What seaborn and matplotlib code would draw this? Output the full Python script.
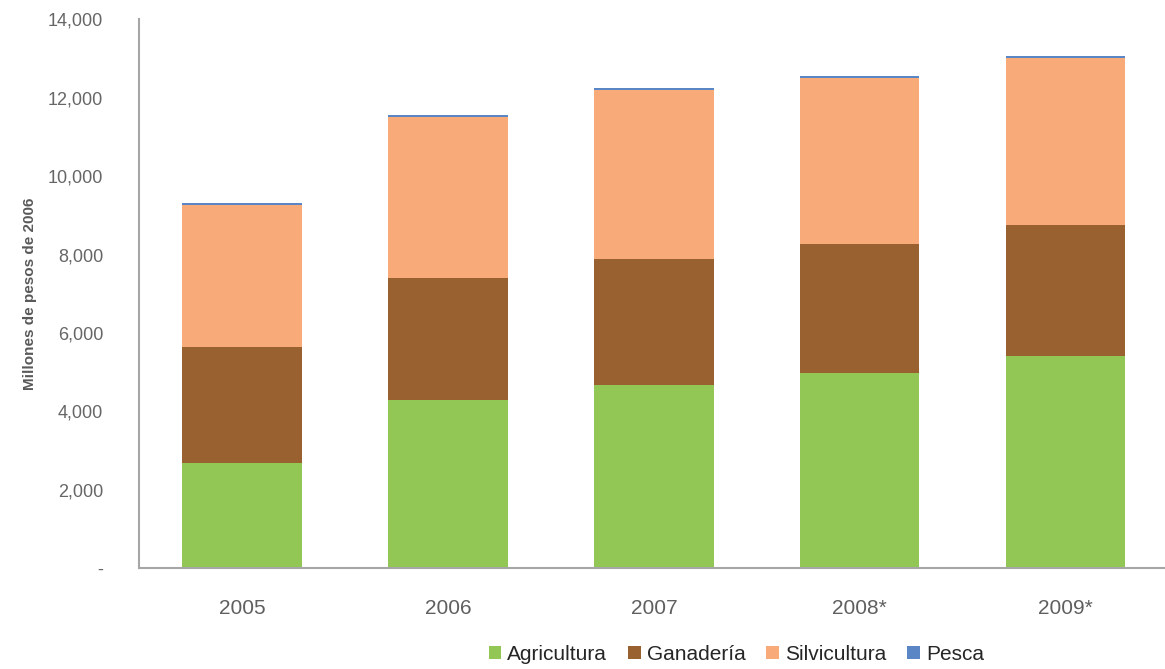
import matplotlib
matplotlib.use("Agg")
import matplotlib.pyplot as plt
import seaborn as sns
import numpy as np
import pandas as pd
from matplotlib.patches import Patch

years = ["2005", "2006", "2007", "2008*", "2009*"]
agricultura = [2680, 4290, 4670, 4970, 5410]
ganaderia = [2960, 3110, 3210, 3300, 3340]
silvicultura = [3620, 4100, 4310, 4230, 4260]
pesca = [60, 60, 55, 55, 55]

series_names = ["Agricultura", "Ganadería", "Silvicultura", "Pesca"]
series_values = [agricultura, ganaderia, silvicultura, pesca]
colors = ["#92C755", "#98612F", "#F8AB78", "#5B86C5"]

sns.set_theme(style="white")
plt.rcParams["font.family"] = ["Liberation Sans", "DejaVu Sans"]

fig = plt.figure(figsize=(11.65, 6.69), dpi=100)
ax = fig.add_axes([0.1195, 0.151, 0.8835, 0.82])

cumulative = np.cumsum(np.array(series_values), axis=0)
# Draw from the tallest stack down so each segment shows its own color
for name, tops, color in reversed(list(zip(series_names, cumulative, colors))):
    df = pd.DataFrame({"year": years, "value": tops})
    sns.barplot(data=df, x="year", y="value", color=color, width=0.58,
                saturation=1, ax=ax, order=years, linewidth=0, edgecolor="none")

ax.set_ylim(0, 14000)
ax.set_xlim(-0.5, 4.5)
yticks = np.arange(0, 14001, 2000)
ax.set_yticks(yticks)
ax.set_yticklabels(["-"] + [f"{v:,}" for v in yticks[1:]])
ax.tick_params(axis="y", labelsize=13, colors="#666666", pad=26, length=0)
ax.tick_params(axis="x", labelsize=15, colors="#5F5F5F", pad=22, length=0)
ax.set_xlabel("")
ax.set_ylabel("Millones de pesos de 2006", fontsize=11, color="#595959",
              fontweight="bold", labelpad=8)

for side in ["top", "right"]:
    ax.spines[side].set_visible(False)
for side in ["left", "bottom"]:
    ax.spines[side].set_color("#A6A6A6")
    ax.spines[side].set_linewidth(1.5)

handles = [Patch(facecolor=c, edgecolor="none") for c in colors]
leg = fig.legend(handles, series_names, loc="center", bbox_to_anchor=(0.632, 0.022),
                 ncol=4, frameon=False, fontsize=15, handlelength=0.6, handleheight=0.6,
                 handletextpad=0.3, columnspacing=1.0)
for t in leg.get_texts():
    t.set_color("#262626")

fig.savefig("out.png", dpi=100)
